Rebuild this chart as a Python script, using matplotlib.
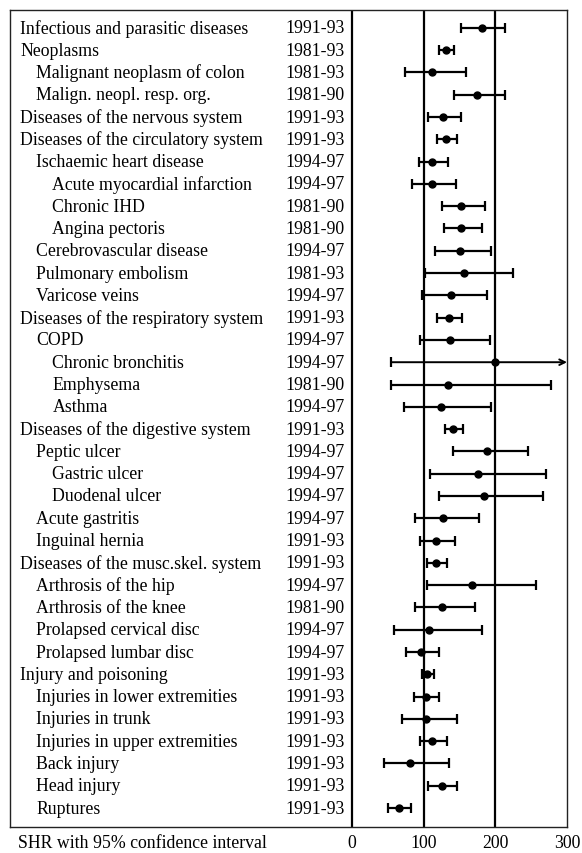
import matplotlib
matplotlib.use("Agg")
import matplotlib.pyplot as plt
from matplotlib import transforms

plt.rcParams['font.family'] = ['Liberation Serif', 'DejaVu Serif']

labels = ["Infectious and parasitic diseases", "Neoplasms", "Malignant neoplasm of colon",
          "Malign. neopl. resp. org.", "Diseases of the nervous system",
          "Diseases of the circulatory system", "Ischaemic heart disease",
          "Acute myocardial infarction", "Chronic IHD", "Angina pectoris",
          "Cerebrovascular disease", "Pulmonary embolism", "Varicose veins",
          "Diseases of the respiratory system", "COPD", "Chronic bronchitis",
          "Emphysema", "Asthma", "Diseases of the digestive system", "Peptic ulcer",
          "Gastric ulcer", "Duodenal ulcer", "Acute gastritis", "Inguinal hernia",
          "Diseases of the musc.skel. system", "Arthrosis of the hip",
          "Arthrosis of the knee", "Prolapsed cervical disc", "Prolapsed lumbar disc",
          "Injury and poisoning", "Injuries in lower extremities", "Injuries in trunk",
          "Injuries in upper extremities", "Back injury", "Head injury", "Ruptures"]
levels = [0, 0, 1, 1, 0, 0, 1, 2, 2, 2, 1, 1, 1, 0, 1, 2, 2, 2, 0, 1, 2, 2, 1, 1,
          0, 1, 1, 1, 1, 0, 1, 1, 1, 1, 1, 1]
periods = ["1991-93", "1981-93", "1981-93", "1981-90", "1991-93", "1991-93", "1994-97",
           "1994-97", "1981-90", "1981-90", "1994-97", "1981-93", "1994-97", "1991-93",
           "1994-97", "1994-97", "1981-90", "1994-97", "1991-93", "1994-97", "1994-97",
           "1994-97", "1994-97", "1991-93", "1991-93", "1994-97", "1981-90", "1994-97",
           "1994-97", "1991-93", "1991-93", "1991-93", "1991-93", "1991-93", "1991-93",
           "1991-93"]
shr = [181, 131, 111, 174, 127, 131, 112, 112, 152, 152, 151, 156, 138, 135, 137, 199,
       134, 124, 141, 188, 176, 184, 127, 117, 117, 168, 125, 108, 96, 105, 103, 103,
       112, 81, 125, 65]
lower = [152, 121, 74, 143, 106, 118, 93, 84, 125, 129, 116, 102, 97, 119, 95, 55,
         55, 73, 130, 141, 109, 122, 88, 95, 105, 105, 88, 59, 76, 97, 87, 70, 95, 45,
         106, 50]
upper = [213, 142, 159, 213, 152, 146, 134, 145, 186, 181, 194, 225, 189, 154, 193, 330,
         277, 194, 155, 246, 270, 266, 177, 144, 132, 257, 172, 181, 122, 115, 122, 146,
         133, 136, 147, 83]
xticks = [0, 100, 200, 300]
xlabel_text = "SHR with 95% confidence interval"

W, H = 582, 854
fig = plt.figure(figsize=(W / 100, H / 100), dpi=100)
left_px, right_px, top_px, bot_px = 10, 567, 11, 828
ax = fig.add_axes([left_px / W, 1 - bot_px / H, (right_px - left_px) / W, (bot_px - top_px) / H])

XMAX = 300
zero_px = 352
scale = (right_px - zero_px) / XMAX
xmin = (left_px - zero_px) / scale
ax.set_xlim(xmin, XMAX)
n = len(labels)
ax.set_ylim(n - 1 + 0.85, -0.8)

def px2x(p):
    return (p - zero_px) / scale

fs = 12.8
for i, (lab, lev, per) in enumerate(zip(labels, levels, periods)):
    ax.text(px2x(20.5 + 16 * lev), i, lab, fontsize=fs, va='center', ha='left')
    ax.text(px2x(285), i, per, fontsize=fs, va='center', ha='left')

for v in [0, 100, 200]:
    ax.axvline(v, color='black', lw=1.6, zorder=1)

for i in range(n):
    lo, hi, m = lower[i], upper[i], shr[i]
    if hi <= XMAX:
        ax.errorbar(m, i, xerr=[[m - lo], [hi - m]], fmt='o', color='black',
                    ms=5, elinewidth=1.6, capsize=3.5, capthick=1.6, zorder=3)
    else:
        ax.annotate("", xy=(XMAX, i), xytext=(lo, i),
                    arrowprops=dict(arrowstyle='->', color='black', lw=1.4,
                                    shrinkA=0, shrinkB=0), zorder=3)
        ax.plot([lo], [i], marker='|', ms=7, mew=1.6, color='black', zorder=3)
        ax.plot([m], [i], 'o', ms=5, color='black', zorder=4)

ax.set_xticks(xticks)
ax.set_xticklabels([str(t) for t in xticks], fontsize=fs)
ax.tick_params(axis='x', length=0, pad=5)
ax.set_yticks([])
for s in ax.spines.values():
    s.set_linewidth(1.0)
    s.set_color('#222222')

trans = transforms.blended_transform_factory(ax.transData, ax.transAxes)
ax.text(px2x(18), -16 / (bot_px - top_px), xlabel_text, fontsize=fs, ha='left',
        va='center', transform=trans)

fig.savefig("out.png", dpi=100)
